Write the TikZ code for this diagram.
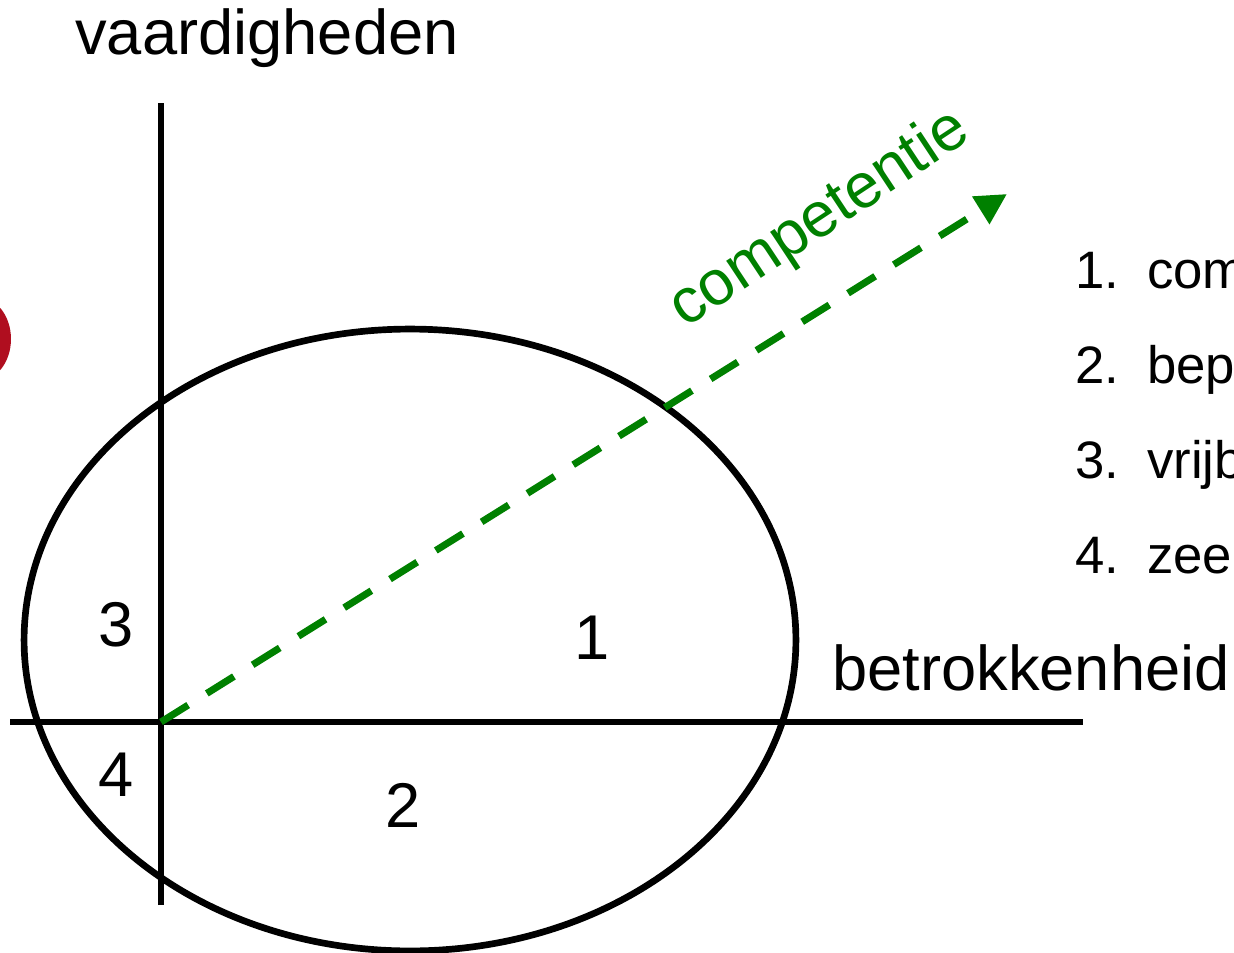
\documentclass[tikz,border=0pt]{standalone}
\usepackage{fontspec}
\setmainfont{Liberation Sans}
\definecolor{cGreen}{HTML}{008000}
\definecolor{cRed}{HTML}{B00E1F}
\usetikzlibrary{arrows.meta}

\begin{document}
\begin{tikzpicture}[x=0.02cm, y=-0.02cm,
  axis/.style={draw=black, line width=3.8pt},
  big/.style={font=\fontsize{36}{43}\selectfont, inner sep=0pt},
  num/.style={big},
  item/.style={font=\fontsize{30}{36}\selectfont, inner sep=0pt, anchor=base west},
  comp/.style={cGreen, line width=4pt, dash pattern=on 0.64cm off 0.44cm,
               -{Triangle[length=0.62cm, width=0.62cm]}}]

  \clip (0,0) rectangle (1234,953);

  % red mark cut off at the left edge
  \fill[cRed] (-22,339) ellipse [x radius=0.66cm, y radius=0.84cm];

  % axes
  \coordinate (o)   at (161,722);
  \coordinate (vtop) at (161,103);
  \coordinate (vbot) at (161,905);
  \coordinate (hl)  at (10,722);
  \coordinate (hr)  at (1083,722);
  \draw[axis] (vbot) -- (vtop);
  \draw[axis] (hl) -- (hr);

  \draw[axis] (410,640) ellipse [x radius=7.72cm, y radius=6.22cm];

  \node[big, anchor=base] (vaard) at (267,55) {vaardigheden};
  \node[big, anchor=base] (betr) at (1031,690) {betrokkenheid};

  \node[num] (q1) at (592,638) {1};
  \node[num] (q2) at (403,805) {2};
  \node[num] (q3) at (116,625) {3};
  \node[num] (q4) at (116,775) {4};

  % competentie
  \coordinate (tip) at (1007,194);
  \draw[comp] (o) -- (tip);
  \node[big, text=cGreen, rotate=33.5] (complbl) at (820,220) {competentie};

  % list (cut off)
  \node[item] (l1) at (1075,288) {\makebox[1.44cm][l]{1.}com};
  \node[item] (l2) at (1075,383) {\makebox[1.44cm][l]{2.}bep};
  \node[item] (l3) at (1075,478) {\makebox[1.44cm][l]{3.}vrijb};
  \node[item] (l4) at (1075,573) {\makebox[1.44cm][l]{4.}zee};
\end{tikzpicture}
\end{document}
